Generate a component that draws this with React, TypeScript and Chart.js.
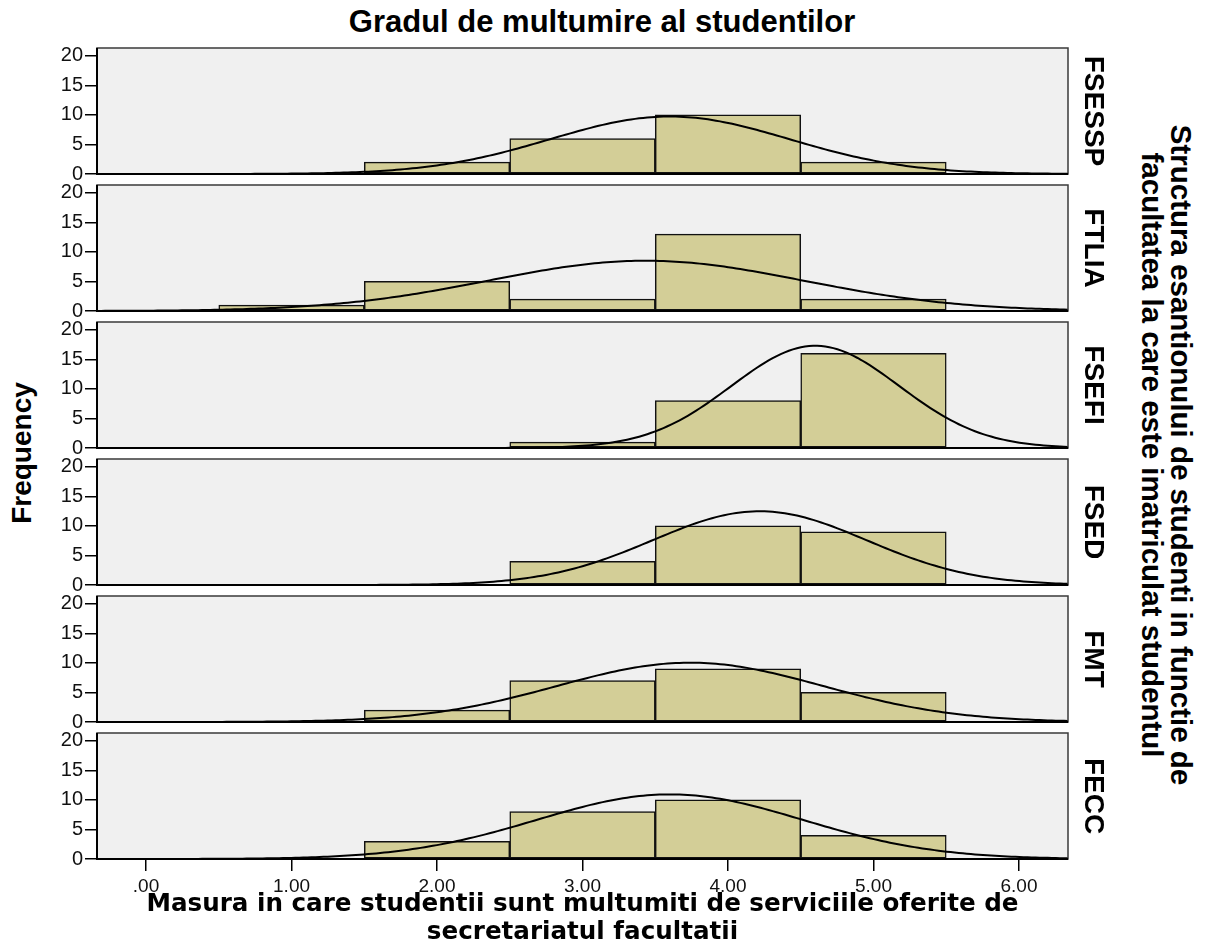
import React, { useEffect, useRef } from 'react';
import { Chart, registerables } from 'chart.js';

Chart.register(...registerables);

// ---------- texts ----------
const CHART_TITLE = 'Gradul de multumire al studentilor';
const Y_AXIS_TITLE = 'Frequency';
const X_AXIS_TITLE = [
  'Masura in care studentii sunt multumiti de serviciile oferite de',
  'secretariatul facultatii',
];
const PANEL_GROUP_TITLE = [
  'Structura esantionului de studenti in functie de',
  'facultatea la care este imatriculat studentul',
];

// ---------- data ----------
const FACULTIES = ['FSESSP', 'FTLIA', 'FSEFI', 'FSED', 'FMT', 'FECC'];
const BIN_CENTERS = [1, 2, 3, 4, 5];
const FSESSP_COUNTS = [0, 2, 6, 10, 2];
const FTLIA_COUNTS = [1, 5, 2, 13, 2];
const FSEFI_COUNTS = [0, 0, 1, 8, 16];
const FSED_COUNTS = [0, 0, 4, 10, 9];
const FMT_COUNTS = [0, 2, 7, 9, 5];
const FECC_COUNTS = [0, 3, 8, 10, 4];
const PANEL_COUNTS = [FSESSP_COUNTS, FTLIA_COUNTS, FSEFI_COUNTS, FSED_COUNTS, FMT_COUNTS, FECC_COUNTS];

const Y_TICKS = [0, 5, 10, 15, 20];
const X_TICKS = [0, 1, 2, 3, 4, 5, 6];
const X_TICK_LABELS = ['.00', '1.00', '2.00', '3.00', '4.00', '5.00', '6.00'];
const X_MIN = -0.337;
const X_MAX = 6.337;
const Y_MAX = 21.3;
const BIN_WIDTH = 1;

// ---------- layout / style ----------
const W = 1207;
const PLOT_LEFT = 97;
const PLOT_RIGHT = 1068;
const PANEL_TOP0 = 48;
const PANEL_PITCH = 137;
const PANEL_H = 126;
const PAD_TOP = 16;
const PAD_BOTTOM = 6;
const X_AXIS_H = 87;

const SANS = "'Liberation Sans', Arial, sans-serif";
const BAR_FILL = '#D3CE97';
const PANEL_BG = '#F0F0F0';

// Fitted normal curve (SPSS "display normal curve"), from each panel's counts
function normalCurve(counts: number[]) {
  const n = counts.reduce((a, b) => a + b, 0);
  const mean = counts.reduce((s, c, i) => s + c * BIN_CENTERS[i], 0) / n;
  const variance = counts.reduce((s, c, i) => s + c * (BIN_CENTERS[i] - mean) ** 2, 0) / (n - 1);
  const sd = Math.sqrt(variance);
  const pts: { x: number; y: number }[] = [];
  const steps = 240;
  for (let k = 0; k <= steps; k++) {
    const x = X_MIN + ((X_MAX - X_MIN) * k) / steps;
    const z = (x - mean) / sd;
    pts.push({ x, y: (n * BIN_WIDTH * Math.exp(-0.5 * z * z)) / (sd * Math.sqrt(2 * Math.PI)) });
  }
  return pts;
}

function makePanelPlugin(label: string) {
  return {
    id: 'panelDeco',
    beforeDraw(chart: any) {
      const { ctx, chartArea: a } = chart;
      ctx.save();
      ctx.fillStyle = PANEL_BG;
      ctx.fillRect(a.left, a.top, a.right - a.left, a.bottom - a.top);
      ctx.restore();
    },
    afterDatasetsDraw(chart: any) {
      const { ctx, chartArea: a } = chart;
      ctx.save();
      ctx.strokeStyle = '#3a3a3a';
      ctx.lineWidth = 1.5;
      ctx.strokeRect(a.left, a.top, a.right - a.left, a.bottom - a.top);
      ctx.strokeStyle = '#000';
      ctx.lineWidth = 2;
      ctx.beginPath();
      ctx.moveTo(a.left, a.top);
      ctx.lineTo(a.left, a.bottom);
      ctx.lineTo(a.right, a.bottom);
      ctx.stroke();
      ctx.restore();
    },
    afterDraw(chart: any) {
      const { ctx, chartArea: a } = chart;
      ctx.save();
      ctx.translate(a.right + 25, (a.top + a.bottom) / 2);
      ctx.rotate(Math.PI / 2);
      ctx.font = `bold 28px ${SANS}`;
      ctx.fillStyle = '#000';
      ctx.textAlign = 'center';
      ctx.textBaseline = 'middle';
      ctx.fillText(label, 0, 0);
      ctx.restore();
    },
  };
}

function PanelChart({ index }: { index: number }) {
  const ref = useRef<HTMLCanvasElement>(null);
  const isBottom = index === FACULTIES.length - 1;
  const top = PANEL_TOP0 + index * PANEL_PITCH - PAD_TOP;
  const height = PAD_TOP + PANEL_H + (isBottom ? X_AXIS_H : PAD_BOTTOM);

  useEffect(() => {
    const canvas = ref.current;
    if (!canvas) return;
    const counts = PANEL_COUNTS[index];
    const chart = new Chart(canvas, {
      type: 'bar',
      data: {
        datasets: [
          {
            type: 'line',
            data: normalCurve(counts),
            borderColor: '#000',
            borderWidth: 2,
            pointRadius: 0,
            fill: false,
            tension: 0,
            order: 0,
          } as any,
          {
            type: 'bar',
            data: BIN_CENTERS.map((x, i) => ({ x, y: counts[i] })),
            backgroundColor: BAR_FILL,
            borderColor: '#111',
            borderWidth: 1.5,
            borderSkipped: false,
            barPercentage: 1,
            categoryPercentage: 1,
            order: 1,
          } as any,
        ],
      },
      options: {
        animation: false,
        responsive: false,
        maintainAspectRatio: false,
        devicePixelRatio: 1,
        layout: {
          padding: { left: 0, right: W - PLOT_RIGHT, top: PAD_TOP, bottom: isBottom ? 0 : PAD_BOTTOM },
        },
        plugins: {
          legend: { display: false },
          tooltip: { enabled: false },
          title: { display: false },
        },
        scales: {
          x: {
            type: 'linear',
            min: X_MIN,
            max: X_MAX,
            offset: false,
            display: isBottom,
            afterBuildTicks: (s: any) => {
              s.ticks = X_TICKS.map((v) => ({ value: v }));
            },
            afterFit: (s: any) => {
              s.height = isBottom ? X_AXIS_H : 0;
              s.paddingLeft = 0;
              s.paddingRight = 0;
            },
            border: { display: false },
            grid: {
              offset: false,
              drawOnChartArea: false,
              drawTicks: true,
              tickLength: 12,
              color: '#000',
              lineWidth: 1.5,
            },
            ticks: {
              autoSkip: false,
              maxRotation: 0,
              padding: 4,
              color: '#111',
              font: { family: SANS, size: 19 },
              callback: (_v: any, i: number) => X_TICK_LABELS[i],
            },
            title: {
              display: true,
              text: X_AXIS_TITLE,
              color: '#000',
              padding: { top: 0, bottom: -1 },
              font: { family: "'DejaVu Sans', Verdana, sans-serif", size: 24.6, weight: 'bold', lineHeight: '28px' },
            },
          } as any,
          y: {
            type: 'linear',
            min: 0,
            max: Y_MAX,
            afterBuildTicks: (s: any) => {
              s.ticks = Y_TICKS.map((v) => ({ value: v }));
            },
            afterFit: (s: any) => {
              s.width = PLOT_LEFT;
              s.paddingTop = 0;
              s.paddingBottom = 0;
            },
            border: { display: false },
            grid: {
              drawOnChartArea: false,
              drawTicks: true,
              tickLength: 12,
              color: '#000',
              lineWidth: 1.5,
            },
            ticks: {
              padding: 2,
              color: '#111',
              font: { family: SANS, size: 20 },
            },
          } as any,
        },
      },
      plugins: [makePanelPlugin(FACULTIES[index])],
    } as any);
    return () => chart.destroy();
  }, [index]);

  return (
    <canvas
      ref={ref}
      width={W}
      height={height}
      style={{ position: 'absolute', left: 0, top, width: W, height }}
    />
  );
}

export default function App() {
  return (
    <div
      style={{
        position: 'absolute',
        left: 0,
        top: 0,
        width: W,
        height: 946,
        background: '#fff',
        overflow: 'hidden',
        fontFamily: SANS,
        color: '#000',
      }}
    >
      <div
        style={{
          position: 'absolute',
          left: 602,
          top: 7,
          transform: 'translateX(-50%)',
          fontSize: 31,
          lineHeight: '30px',
          fontWeight: 'bold',
          whiteSpace: 'nowrap',
        }}
      >
        {CHART_TITLE}
      </div>
      <div
        style={{
          position: 'absolute',
          left: 22,
          top: 453,
          transform: 'translate(-50%, -50%) rotate(-90deg)',
          fontSize: 28,
          lineHeight: '28px',
          fontWeight: 'bold',
          whiteSpace: 'nowrap',
        }}
      >
        {Y_AXIS_TITLE}
      </div>
      <div
        style={{
          position: 'absolute',
          left: 1167,
          top: 455,
          transform: 'translate(-50%, -50%) rotate(90deg)',
          fontSize: 29.5,
          lineHeight: '29px',
          fontWeight: 'bold',
          whiteSpace: 'nowrap',
          textAlign: 'center',
        }}
      >
        {PANEL_GROUP_TITLE.map((t, i) => (
          <div key={i}>{t}</div>
        ))}
      </div>
      {FACULTIES.map((f, i) => (
        <PanelChart key={f} index={i} />
      ))}
    </div>
  );
}
